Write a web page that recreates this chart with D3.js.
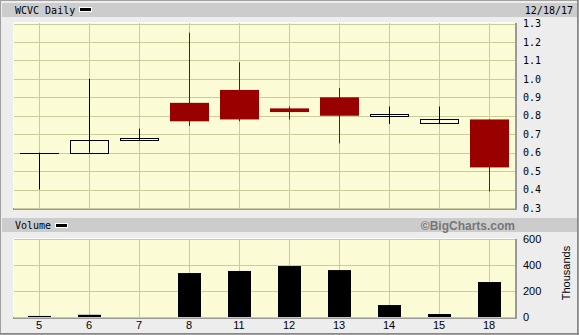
<!DOCTYPE html>
<html><head><meta charset="utf-8">
<script src="https://cdn.jsdelivr.net/npm/d3@7"></script>
<style>html,body{margin:0;padding:0;background:#fff}svg{display:block}</style>
</head><body>
<script>
const days = ["5","6","7","8","11","12","13","14","15","18"];
const openP = [0.60,0.60,0.67,0.87,0.94,0.84,0.90,0.80,0.76,0.78];
const highP = [0.60,1.00,0.73,1.25,1.09,0.85,0.95,0.85,0.85,0.78];
const lowP  = [0.40,0.60,0.67,0.745,0.77,0.78,0.65,0.755,0.755,0.39];
const closeP= [0.60,0.67,0.68,0.77,0.78,0.82,0.80,0.81,0.78,0.52];
const volume = [8,17,0,338,354,392,361,92,23,269];
const priceTicks = [0.3,0.4,0.5,0.6,0.7,0.8,0.9,1.0,1.1,1.2,1.3];
const volTicks = [0,200,400,600];

const W=579,H=335;
const svg=d3.select("body").append("svg").attr("width",W).attr("height",H);
const defs=svg.append("defs");
const pat=defs.append("pattern").attr("id","dots").attr("width",2).attr("height",2).attr("patternUnits","userSpaceOnUse");
pat.append("rect").attr("width",2).attr("height",2).attr("fill","#ffffe6");
pat.append("rect").attr("width",1).attr("height",1).attr("fill","#f8f8d2");
pat.append("rect").attr("x",1).attr("y",1).attr("width",1).attr("height",1).attr("fill","#f8f8d2");

// background & frame
svg.append("rect").attr("x",0).attr("y",0).attr("width",W).attr("height",H).attr("fill","#ededed");
svg.append("rect").attr("x",0.5).attr("y",0.5).attr("width",W-1).attr("height",H-1).attr("fill","none").attr("stroke","#a0a0a0");
svg.append("line").attr("x1",W-1.5).attr("x2",W-1.5).attr("y1",0).attr("y2",H).attr("stroke","#888");
svg.append("line").attr("x1",0).attr("x2",W).attr("y1",H-1.5).attr("y2",H-1.5).attr("stroke","#888");

// header bars
svg.append("rect").attr("x",2).attr("y",3).attr("width",W-4).attr("height",14).attr("fill","#cccccc");
svg.append("rect").attr("x",2).attr("y",218).attr("width",W-4).attr("height",14).attr("fill","#cccccc");

const mono="'DejaVu Sans Mono', monospace";
const sans="'Liberation Sans', Arial, sans-serif";
svg.append("text").attr("x",15).attr("y",14).attr("font-family",mono).attr("font-size",10).attr("fill","#000").text("WCVC Daily");
svg.append("rect").attr("x",79.5).attr("y",7.5).attr("width",12).attr("height",4).attr("fill","#000").attr("stroke","#fff");
svg.append("text").attr("x",573).attr("y",14).attr("text-anchor","end").attr("font-family",mono).attr("font-size",10).text("12/18/17");
svg.append("text").attr("x",15).attr("y",229).attr("font-family",mono).attr("font-size",10).text("Volume");
svg.append("rect").attr("x",55.5).attr("y",223.5).attr("width",12).attr("height",4).attr("fill","#000").attr("stroke","#fff");
svg.append("text").attr("x",515).attr("y",230).attr("text-anchor","end").attr("font-family",sans).attr("font-weight","bold").attr("font-size",12).attr("fill","#777").text("©BigCharts.com");

// scales
const x=d3.scaleBand().domain(days).range([14,514]);
const cx=d=>x(d)+x.bandwidth()/2;
const y=d3.scaleLinear().domain([0.3,1.3]).range([208,23.5]);
const yv=d3.scaleLinear().domain([0,600]).range([317,239]);

function panel(top,bottom){
  svg.append("rect").attr("x",14).attr("y",top).attr("width",501).attr("height",bottom-top).attr("fill","url(#dots)");
  svg.append("line").attr("x1",13).attr("x2",516).attr("y1",bottom+1).attr("y2",bottom+1).attr("stroke","#999").attr("stroke-width",2);
  svg.append("line").attr("x1",516).attr("x2",516).attr("y1",top).attr("y2",bottom+2).attr("stroke","#999").attr("stroke-width",2);
  svg.append("line").attr("x1",14).attr("x2",515).attr("y1",top-0.5).attr("y2",top-0.5).attr("stroke","#fff");
  svg.append("line").attr("x1",13.5).attr("x2",13.5).attr("y1",top).attr("y2",bottom).attr("stroke","#fff");
}
panel(23,208);
panel(239,317);
const grid="#cccc99";
svg.append("g").selectAll("line").data(priceTicks).join("line")
  .attr("x1",14).attr("x2",515).attr("y1",d=>Math.round(y(d))+0.5).attr("y2",d=>Math.round(y(d))+0.5).attr("stroke",grid);
svg.append("g").selectAll("line").data(days).join("line")
  .attr("x1",d=>Math.round(cx(d))+0.5).attr("x2",d=>Math.round(cx(d))+0.5).attr("y1",23).attr("y2",208).attr("stroke",grid);
svg.append("g").selectAll("line").data(volTicks).join("line")
  .attr("x1",14).attr("x2",515).attr("y1",d=>Math.round(yv(d))+0.5).attr("y2",d=>Math.round(yv(d))+0.5).attr("stroke",grid);
svg.append("g").selectAll("line").data(days).join("line")
  .attr("x1",d=>Math.round(cx(d))+0.5).attr("x2",d=>Math.round(cx(d))+0.5).attr("y1",239).attr("y2",317).attr("stroke",grid);

const ya=d3.axisRight(y).tickValues(priceTicks).tickFormat(d3.format(".1f")).tickSize(0).tickPadding(0);
const gya=svg.append("g").attr("transform","translate(523,0)").call(ya);
gya.select(".domain").remove();
gya.selectAll("text").attr("font-family",mono).attr("font-size",10).attr("fill","#000");

const va=d3.axisRight(yv).tickValues(volTicks).tickSize(0).tickPadding(0);
const gva=svg.append("g").attr("transform","translate(523,0)").call(va);
gva.select(".domain").remove();
gva.selectAll("text").attr("font-family",sans).attr("font-size",11).attr("fill","#000");
svg.append("text").attr("transform","translate(570,273) rotate(-90)").attr("text-anchor","middle")
  .attr("font-family",sans).attr("font-size",11).text("Thousands");

const xa=d3.axisBottom(x).tickSize(0).tickPadding(0);
const gxa=svg.append("g").attr("transform","translate(0,321)").call(xa);
gxa.select(".domain").remove();
gxa.selectAll("text").attr("font-family",sans).attr("font-size",11).attr("fill","#000");

const red="#990000";
const data=days.map((d,i)=>({d,o:openP[i],h:highP[i],l:lowP[i],c:closeP[i],v:volume[i]}));
const cg=svg.append("g");
data.forEach(k=>{
  const xc=Math.round(cx(k.d))+0.5;
  const down=k.c<k.o;
  const col=down?red:"#000";
  cg.append("line").attr("x1",xc).attr("x2",xc).attr("y1",y(k.h)).attr("y2",y(k.l)).attr("stroke",col).attr("stroke-width",1);
  const top=y(Math.max(k.o,k.c)), bot=y(Math.min(k.o,k.c));
  const bw=38;
  if(k.o===k.c){
    cg.append("line").attr("x1",xc-19.5).attr("x2",xc+19.5).attr("y1",Math.round(top)+0.5).attr("y2",Math.round(top)+0.5).attr("stroke",col);
  } else if(down){
    cg.append("rect").attr("x",xc-19.5).attr("y",top).attr("width",bw+1).attr("height",bot-top).attr("fill",red);
  } else {
    cg.append("rect").attr("x",xc-19).attr("y",Math.round(top)+0.5).attr("width",bw).attr("height",Math.max(1,Math.round(bot-top))).attr("fill","none").attr("stroke","#000");
  }
});

svg.append("g").selectAll("rect").data(data).join("rect")
  .attr("x",k=>cx(k.d)-11).attr("width",23)
  .attr("y",k=>yv(k.v)).attr("height",k=>yv(0)-yv(k.v)).attr("fill","#000");
</script>
</body></html>
